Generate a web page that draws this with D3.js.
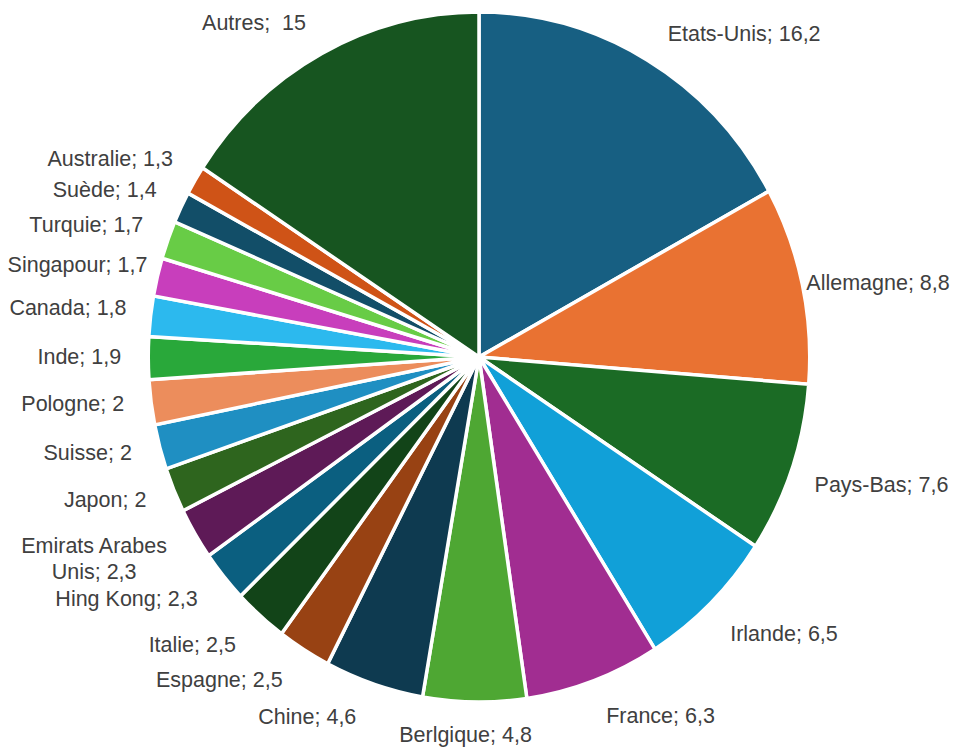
<!DOCTYPE html>
<html>
  <head>
    <meta charset="utf-8">
    <style>
      body {
        margin: 0;
        background: #ffffff;
        font-family: "Liberation Sans", "Arial", sans-serif;
      }
      .lbl {
        font-size: 21.5px;
        fill: #404040;
        white-space: pre;
      }
    </style>
  </head>
  <body>
    <div id="chart"></div>

    <script src="https://cdnjs.cloudflare.com/ajax/libs/d3/7.8.5/d3.min.js"></script>
    <script>

      // data (French labels, clockwise from 12 o'clock)
      var countries = ["Etats-Unis", "Allemagne", "Pays-Bas", "Irlande", "France", "Berlgique",
        "Chine", "Espagne", "Italie", "Hing Kong", "Emirats Arabes Unis", "Japon", "Suisse",
        "Pologne", "Inde", "Canada", "Singapour", "Turquie", "Suède", "Australie", "Autres"];
      var shares = [16.2, 8.8, 7.6, 6.5, 6.3, 4.8, 4.6, 2.5, 2.5, 2.3, 2.3, 2, 2, 2, 1.9, 1.8,
        1.7, 1.7, 1.4, 1.3, 15];
      var valueLabels = ["16,2", "8,8", "7,6", "6,5", "6,3", "4,8", "4,6", "2,5", "2,5", "2,3",
        "2,3", "2", "2", "2", "1,9", "1,8", "1,7", "1,7", "1,4", "1,3", " 15"];

      var colors = ["#175f82", "#e97232", "#1b6b25", "#11a0d8", "#a12d91", "#4ea733",
        "#0e3a50", "#984213", "#124418", "#0b5f80", "#5e1a57", "#2e651e", "#1f8fc2",
        "#ec8d5c", "#29a83a", "#2cb9ee", "#c83ebc", "#68cc46", "#124e68", "#cf5317", "#175520"];

      // label tweaks (dx, dy) relative to the default outside-end spot
      var nudges = [[16, -10], [-4, 2], [15, 10], [14, 17], [10, 17], [-9, 14], [-15, 14],
        [-17, 14], [-19, 14], [-20, 10], [-21, 15], [-20, 2], [-20, 0], [-19, -1], [-19, -2],
        [-16, -6], [-2, -8], [-17, -9], [-17, -10], [-15, -12], [-12, -14]];

      var width = 953, height = 749;
      var cx = 479, cy = 357;
      var r = 345, sx = 0.9587;   // the source picture is a little squashed sideways

      var svg = d3.select("#chart")
        .append("svg")
          .attr("width", width)
          .attr("height", height);

      var data = countries.map(function (c, i) {
        return { name: c, value: shares[i], text: valueLabels[i], color: colors[i], i: i };
      });

      var pie = d3.pie()
        .sort(null)
        .value(function (d) { return d.value; });

      var arc = d3.arc()
        .innerRadius(0)
        .outerRadius(r);

      var arcs = pie(data);

      svg.append("g")
          .attr("transform", "translate(" + cx + "," + cy + ") scale(" + sx + ",1)")
        .selectAll("path")
        .data(arcs)
        .enter()
        .append("path")
          .attr("d", arc)
          .attr("fill", function (d) { return d.data.color; })
          .attr("stroke", "#ffffff")
          .attr("stroke-width", 3.5)
          .attr("vector-effect", "non-scaling-stroke");

      // labels
      var gap = 10, lineH = 26;
      var labels = svg.append("g");

      arcs.forEach(function (a) {
        var d = a.data;
        var mid = (a.startAngle + a.endAngle) / 2;
        var s = Math.sin(mid), c = Math.cos(mid);
        var rx = (r - 2) * sx + gap, ry = (r - 2) + gap;
        var x = cx + s * rx + nudges[d.i][0];
        var y = cy - c * ry - c * 11 + nudges[d.i][1];
        var anchor = s > 0.15 ? "start" : (s < -0.15 ? "end" : "middle");

        var full = d.name + "; " + d.text;
        var lines = d.name === "Emirats Arabes Unis" ? ["Emirats Arabes", "Unis; " + d.text] : [full];

        var t = labels.append("text")
          .attr("class", "lbl")
          .attr("y", y);

        if (lines.length === 1) {
          t.attr("x", x)
            .attr("dy", "0.35em")
            .attr("text-anchor", anchor)
            .text(full);
        } else {
          // centred block, right edge at x
          var tmp = labels.append("text").attr("class", "lbl").text(lines[0]);
          var w = tmp.node().getComputedTextLength();
          tmp.remove();
          var mx = anchor === "end" ? x - w / 2 : x + w / 2;
          t.attr("text-anchor", "middle");
          lines.forEach(function (ln, k) {
            t.append("tspan")
              .attr("x", mx)
              .attr("y", y + (k - (lines.length - 1) / 2) * lineH)
              .attr("dy", "0.35em")
              .text(ln);
          });
        }
      });

    </script>
  </body>
</html>
